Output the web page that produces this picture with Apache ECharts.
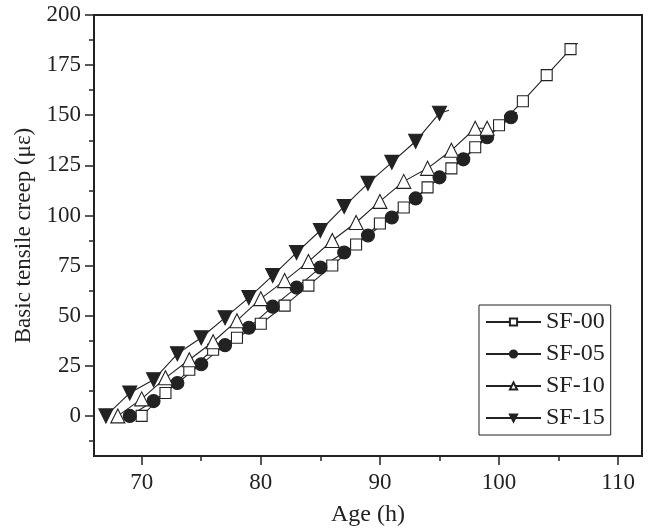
<!DOCTYPE html>
<html>
<head>
<meta charset="utf-8">
<script src="https://cdn.jsdelivr.net/npm/echarts@6/dist/echarts.min.js"></script>
<style>
  html, body { margin: 0; padding: 0; background: #fff; }
  #chart { width: 653px; height: 532px; }
</style>
</head>
<body>
<div id="chart"></div>
<script>
// 读图得到的数据（Age h, creep με）
const sf00X = [70, 72, 74, 76, 78, 80, 82, 84, 86, 88, 90, 92, 94, 96, 98, 100, 102, 104, 106];
const sf00Y = [0, 11.4, 23, 33, 39, 46, 55, 65, 75, 85.5, 96, 104, 114, 123.5, 134, 145, 157, 170, 183];
const sf00Tail = [106.6, 186];

const sf05X = [69, 71, 73, 75, 77, 79, 81, 83, 85, 87, 89, 91, 93, 95, 97, 99, 101];
const sf05Y = [0, 7.4, 16.4, 25.8, 35.3, 44, 54.5, 64, 74, 81.5, 90, 99, 108.5, 119, 128, 139, 149];
const sf05Tail = [101.5, 151.5];

const sf10X = [68, 70, 72, 74, 76, 78, 80, 82, 84, 86, 88, 90, 92, 94, 96, 98, 99];
const sf10Y = [0, 8.5, 19, 28, 37, 47.5, 58.5, 67.5, 77, 87.5, 96.5, 107, 117, 123.5, 132.5, 143.5, 143.5];

const sf15X = [67, 69, 71, 73, 75, 77, 79, 81, 83, 85, 87, 89, 91, 93, 95];
const sf15Y = [0, 11.4, 18, 31, 39, 49, 59, 70, 81.5, 92.5, 104.5, 116, 126.5, 137, 151];
const sf15Tail = [95.8, 152.5];

const xMajor = [70, 80, 90, 100, 110];
const xMinor = [75, 85, 95, 105];
const yMajor = [0, 25, 50, 75, 100, 125, 150, 175, 200];
const yMinor = [-12.5, 12.5, 37.5, 62.5, 87.5, 112.5, 137.5, 162.5, 187.5];

const FONT = 'Liberation Serif';
const INK = '#222';

function pts(xs, ys, tail) {
    const d = xs.map((x, i) => [x, ys[i]]);
    if (tail) d.push({ value: tail, symbol: 'none' });
    return d;
}

const chart = echarts.init(document.getElementById('chart'));

const baseX = { type: 'value', min: 66, max: 112, position: 'bottom' };
const baseY = { type: 'value', min: -20, max: 200, position: 'left' };

function lineSeries(name, data, symbol, size, fill, rotate) {
    return {
        name: name,
        type: 'line',
        data: data,
        symbol: symbol,
        symbolSize: size,
        symbolRotate: rotate || 0,
        showAllSymbol: true,
        lineStyle: { color: INK, width: 1.1 },
        itemStyle: { color: fill, borderColor: INK, borderWidth: 1.1 },
        emphasis: { disabled: true },
        animation: false
    };
}

chart.setOption({
    animation: false,
    grid: {
        left: 94, top: 15, right: 11, bottom: 73,
        show: true, borderColor: INK, borderWidth: 2
    },
    legend: {
        orient: 'vertical',
        left: 479, top: 305,
        padding: [5, 6, 5, 6],
        itemWidth: 55, itemHeight: 9, itemGap: 8,
        borderColor: INK, borderWidth: 1,
        textStyle: { fontFamily: FONT, fontSize: 24, color: INK, lineHeight: 24 },
        data: ['SF-00', 'SF-05', 'SF-10', 'SF-15']
    },
    xAxis: [
        Object.assign({}, baseX, {
            name: 'Age (h)', nameLocation: 'middle', nameGap: 47,
            nameTextStyle: { fontFamily: FONT, fontSize: 24, color: INK },
            axisLine: { onZero: false, lineStyle: { color: INK, width: 2 } },
            axisTick: { show: true, length: 9, inside: false, customValues: xMajor, lineStyle: { color: INK, width: 1.5 } },
            axisLabel: { customValues: xMajor, margin: 15, fontFamily: FONT, fontSize: 23, color: INK },
            splitLine: { show: false }
        }),
        Object.assign({}, baseX, {
            axisLine: { show: false, onZero: false },
            axisTick: { show: true, length: 5, customValues: xMinor, lineStyle: { color: INK, width: 1.5 } },
            axisLabel: { show: false },
            splitLine: { show: false }
        })
    ],
    yAxis: [
        Object.assign({}, baseY, {
            name: 'Basic tensile creep (με)', nameLocation: 'middle', nameGap: 55,
            nameTextStyle: { fontFamily: FONT, fontSize: 23, color: INK },
            axisLine: { onZero: false, lineStyle: { color: INK, width: 2 } },
            axisTick: { show: true, length: 9, customValues: yMajor, lineStyle: { color: INK, width: 1.5 } },
            axisLabel: { customValues: yMajor, margin: 13, fontFamily: FONT, fontSize: 23, color: INK },
            splitLine: { show: false }
        }),
        Object.assign({}, baseY, {
            axisLine: { show: false, onZero: false },
            axisTick: { show: true, length: 5, customValues: yMinor, lineStyle: { color: INK, width: 1.5 } },
            axisLabel: { show: false },
            splitLine: { show: false }
        })
    ],
    series: [
        lineSeries('SF-00', pts(sf00X, sf00Y, sf00Tail), 'rect', 11, '#fff'),
        lineSeries('SF-05', pts(sf05X, sf05Y, sf05Tail), 'circle', 13, INK),
        lineSeries('SF-10', pts(sf10X, sf10Y), 'triangle', 14, '#fff'),
        lineSeries('SF-15', pts(sf15X, sf15Y, sf15Tail), 'triangle', 14, INK, 180)
    ]
});
</script>
</body>
</html>
